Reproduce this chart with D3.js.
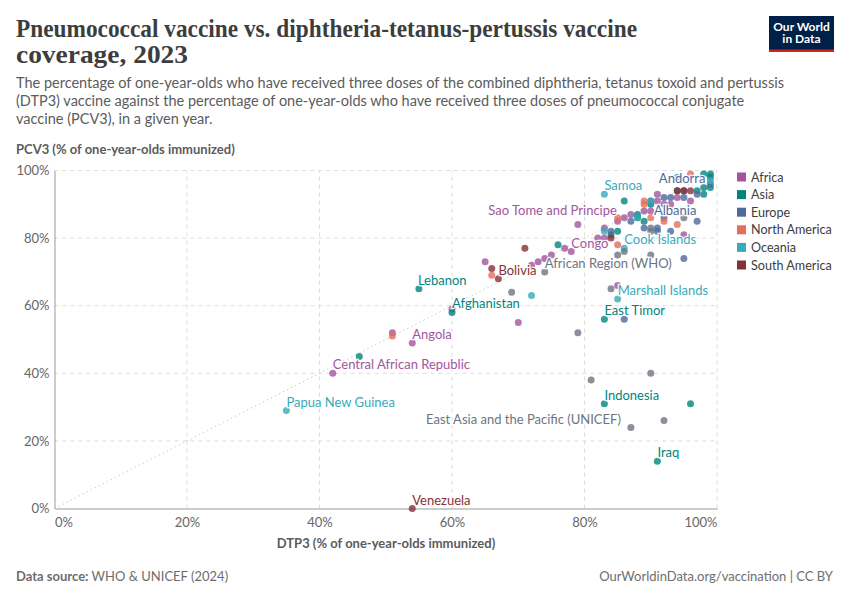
<!DOCTYPE html>
<html>
<head>
<meta charset="utf-8">
<script src="https://cdn.jsdelivr.net/npm/d3@7"></script>
<style>
  body { margin: 0; background: #fff; }
  text { font-family: Lato, "Open Sans", sans-serif; }
</style>
</head>
<body>
<svg id="chart" width="850" height="600"></svg>
<script>
// [DTP3, PCV3, label]
const africa = [
  [54, 49, "Angola"], [42, 40, "Central African Republic"], [51, 52], [65, 73], [70, 55],
  [79, 84, "Sao Tome and Principe"], [77, 77], [78, 76, "Congo"], [75, 75], [74, 74], [73, 73], [72, 72],
  [60, 59], [85, 66], [83, 83], [83, 80], [82, 80], [85, 85], [86, 86], [87, 87], [89, 88],
  [91, 93], [91, 91], [94, 92], [96, 91], [95, 81], [93, 90], [90, 88], [92, 90],
];
const asia = [
  [55, 65, "Lebanon"], [60, 58, "Afghanistan"], [46, 45], [83, 56, "East Timor"], [83, 31, "Indonesia"],
  [96, 31], [91, 14, "Iraq"], [76, 78], [86, 91], [90, 90], [88, 87], [88, 86], [89, 85], [85, 82], [84, 81],
  [98, 99], [99, 99], [99, 98], [99, 95], [98, 95], [97, 94], [98, 93], [94, 94],
];
const europe = [
  [86, 56], [92, 92], [93, 92], [95, 92], [87, 85], [97, 85], [89, 83], [91, 83], [91, 82], [93, 82], [95, 74],
  [99, 96, "Andorra"], [95, 94], [97, 93], [90, 91], [92, 86, "Albania"], [84, 82],
];
const northAmerica = [
  [51, 51], [66, 69], [89, 90], [90, 86], [85, 86], [92, 85], [94, 84], [85, 78], [96, 99], [89, 91],
];
const oceania = [
  [35, 29, "Papua New Guinea"], [72, 63], [83, 93, "Samoa"], [85, 62, "Marshall Islands"], [86, 77, "Cook Islands"],
  [83, 82], [90, 91], [88, 86], [99, 97], [94, 98],
];
const southAmerica = [
  [54, 0, "Venezuela"], [67, 68, "Bolivia"], [66, 71], [71, 77], [84, 80], [95, 94], [96, 94], [94, 94],
];
const whoRegions = [
  [74, 70, "African Region (WHO)"], [87, 24, "East Asia and the Pacific (UNICEF)"], [69, 64], [79, 52], [84, 65],
  [81, 38], [90, 40], [92, 26], [86, 76], [85, 75], [90, 75], [90, 83], [90, 82], [95, 86],
];

const continents = ["Africa", "Asia", "Europe", "North America", "Oceania", "South America"];
const colors = ["#A2559C", "#00847E", "#4C6A9C", "#E56E5A", "#38AABA", "#883039"];
const whoColor = "#6e7581";
const xTicks = [0, 20, 40, 60, 80, 100];
const yTicks = [0, 20, 40, 60, 80, 100];

// label placement relative to the dot, [dx, dy, anchor]
const labelPos = {
  "Angola": [0, -4, "start"],
  "Central African Republic": [0, -4, "start"],
  "Sao Tome and Principe": [39, -10, "end"],
  "Congo": [0, -4, "start"],
  "Lebanon": [-1, -4, "start"],
  "Afghanistan": [0, -4, "start"],
  "East Timor": [0, -4, "start"],
  "Indonesia": [0, -4, "start"],
  "Iraq": [0, -4, "start"],
  "Andorra": [-5, -1, "end"],
  "Albania": [-10, -3, "start"],
  "Papua New Guinea": [0, -3, "start"],
  "Samoa": [0, -4, "start"],
  "Marshall Islands": [0, -4, "start"],
  "Cook Islands": [0, -4, "start"],
  "Venezuela": [0, -4, "start"],
  "Bolivia": [0, -4, "start"],
  "African Region (WHO)": [0, -4, "start"],
  "East Asia and the Pacific (UNICEF)": [-10, -3, "end"],
};

const svg = d3.select("#chart");

const x = d3.scaleLinear().domain([0, 100]).range([54.5, 717]);
const y = d3.scaleLinear().domain([0, 100]).range([508.5, 170.5]);

// header
const title = svg.append("g").attr("font-weight", 700).attr("fill", "#3d3d3d");
title.append("text").attr("x", 16).attr("y", 37).attr("font-size", 24.5)
  .attr("textLength", 621).attr("lengthAdjust", "spacingAndGlyphs")
  .style("font-family", "'Liberation Serif', serif")
  .text("Pneumococcal vaccine vs. diphtheria-tetanus-pertussis vaccine");
title.append("text").attr("x", 16).attr("y", 63).attr("font-size", 24.5)
  .attr("textLength", 172).attr("lengthAdjust", "spacingAndGlyphs")
  .style("font-family", "'Liberation Serif', serif")
  .text("coverage, 2023");

const subtitle = [
  "The percentage of one-year-olds who have received three doses of the combined diphtheria, tetanus toxoid and pertussis",
  "(DTP3) vaccine against the percentage of one-year-olds who have received three doses of pneumococcal conjugate",
  "vaccine (PCV3), in a given year.",
];
svg.append("g").selectAll("text").data(subtitle).join("text")
  .attr("x", 16).attr("y", (d, i) => 88 + i * 18)
  .attr("font-size", 14.5).attr("fill", "#5b5b5b")
  .text(d => d);

// logo
svg.append("rect").attr("x", 769).attr("y", 16).attr("width", 65).attr("height", 36).attr("fill", "#002147");
svg.append("rect").attr("x", 769).attr("y", 49.5).attr("width", 65).attr("height", 2.5).attr("fill", "#CE261E");
svg.append("g").selectAll("text").data(["Our World", "in Data"]).join("text")
  .attr("x", 801.5).attr("y", (d, i) => 31 + i * 12)
  .attr("text-anchor", "middle").attr("font-size", 12).attr("font-weight", 700).attr("fill", "#fff")
  .text(d => d);

// axes
const yAxis = d3.axisLeft(y).tickValues(yTicks).tickFormat(d => d + "%").tickSize(0).tickPadding(5);
const xAxis = d3.axisBottom(x).tickValues(xTicks).tickFormat(d => d + "%").tickSize(0).tickPadding(9);

const gy = svg.append("g").attr("transform", "translate(54.5,0)").call(yAxis);
const gx = svg.append("g").attr("transform", "translate(0,508.5)").call(xAxis);
gy.select(".domain").attr("stroke", "#999");
gx.select(".domain").attr("stroke", "#999");
gy.selectAll("text").attr("font-size", 13).attr("fill", "#666").style("font-family", "Lato");
gx.selectAll("text").attr("font-size", 13).attr("fill", "#666").style("font-family", "Lato")
  .attr("text-anchor", d => d === 0 ? "start" : d === 100 ? "end" : "middle");

const grid = svg.insert("g", "g");
grid.selectAll("line.h").data(yTicks.filter(d => d > 0)).join("line").attr("class", "h")
  .attr("x1", x(0)).attr("x2", x(100)).attr("y1", d => y(d)).attr("y2", d => y(d));
grid.selectAll("line.v").data(xTicks.filter(d => d > 0)).join("line").attr("class", "v")
  .attr("x1", d => x(d)).attr("x2", d => x(d)).attr("y1", y(0)).attr("y2", y(100));
grid.selectAll("line").attr("stroke", "#ddd").attr("stroke-dasharray", "4,4");

svg.append("line")
  .attr("x1", x(0)).attr("y1", y(0)).attr("x2", x(100)).attr("y2", y(100))
  .attr("stroke", "#ccc").attr("stroke-dasharray", "1.5,3");

svg.append("text").attr("x", 16).attr("y", 154)
  .attr("font-size", 13).attr("font-weight", 700).attr("fill", "#5b5b5b")
  .text("PCV3 (% of one-year-olds immunized)");
svg.append("text").attr("x", 386).attr("y", 548).attr("text-anchor", "middle")
  .attr("font-size", 13).attr("font-weight", 700).attr("fill", "#5b5b5b")
  .text("DTP3 (% of one-year-olds immunized)");

// dots
const series = [africa, asia, europe, northAmerica, oceania, southAmerica, whoRegions];
const seriesColors = [...colors, whoColor];
const points = series.flatMap((s, i) => s.map(p => ({ dtp: p[0], pcv: p[1], label: p[2], color: seriesColors[i] })));

svg.append("g").selectAll("circle").data(points).join("circle")
  .attr("cx", d => x(d.dtp)).attr("cy", d => y(d.pcv)).attr("r", 3.5)
  .attr("fill", d => d.color).attr("fill-opacity", 0.8);

// labels
svg.append("g").selectAll("text").data(points.filter(d => d.label)).join("text")
  .attr("x", d => x(d.dtp) + labelPos[d.label][0])
  .attr("y", d => y(d.pcv) + labelPos[d.label][1])
  .attr("text-anchor", d => labelPos[d.label][2])
  .attr("font-size", 13).attr("fill", d => d.color)
  .attr("stroke", "#fff").attr("stroke-width", 2.5).attr("stroke-opacity", 0.9)
  .style("paint-order", "stroke")
  .text(d => d.label);

// legend
const legend = svg.append("g").selectAll("g").data(continents).join("g")
  .attr("transform", (d, i) => `translate(737,${172.5 + i * 17.6})`);
legend.append("rect").attr("width", 9).attr("height", 9).attr("fill", (d, i) => colors[i]);
legend.append("text").attr("x", 14).attr("y", 9).attr("font-size", 12.6).attr("fill", "#3d3d3d").text(d => d);

// footer
const src = svg.append("text").attr("x", 16).attr("y", 581).attr("font-size", 13).attr("fill", "#6e6e6e");
src.append("tspan").attr("font-weight", 700).text("Data source:");
src.append("tspan").text(" WHO & UNICEF (2024)");
svg.append("text").attr("x", 833).attr("y", 581).attr("text-anchor", "end")
  .attr("font-size", 13).attr("fill", "#6e6e6e")
  .text("OurWorldinData.org/vaccination | CC BY");
</script>
</body>
</html>
